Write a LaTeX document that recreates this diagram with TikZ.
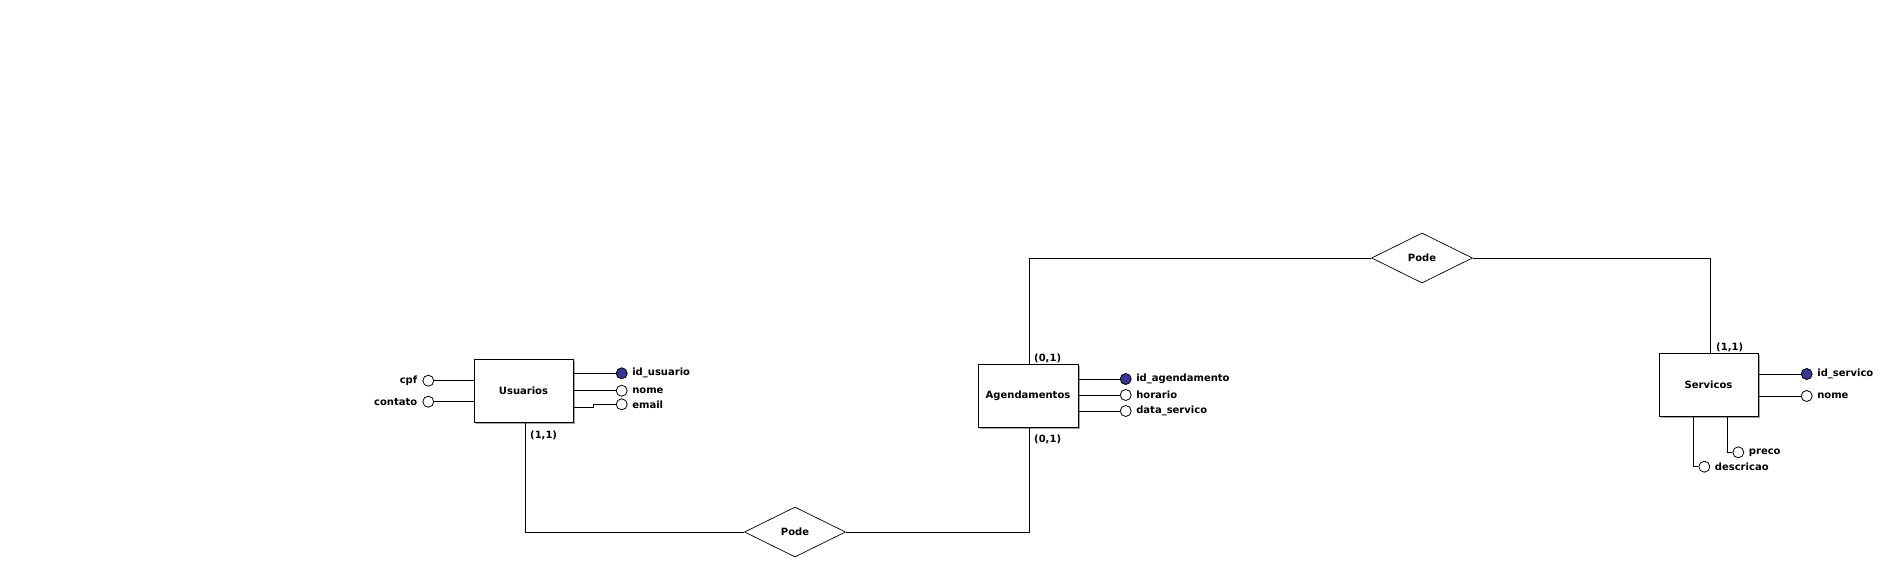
\documentclass[tikz,border=0pt]{standalone}
\usepackage{fontspec}
\setmainfont{DejaVu Sans}
\usetikzlibrary{shapes.geometric,shadows}
\definecolor{keyblue}{RGB}{55,55,145}
\tikzset{
  every node/.style={font=\bfseries\fontsize{10}{12}\selectfont},
  conn/.style={draw=black, line width=0.9pt},
  entity/.style={draw=black, line width=0.9pt, fill=white, minimum width=99pt, minimum height=63pt, inner sep=0pt,
     drop shadow={opacity=1, fill=gray!70, shadow xshift=2pt, shadow yshift=-2pt}},
  rel/.style={diamond, draw=black, line width=0.7pt, fill=white, minimum width=101pt, minimum height=50pt, inner sep=0pt},
  attr/.style={circle, draw=black, line width=0.8pt, fill=white, minimum size=11pt, inner sep=0pt},
  keyattr/.style={attr, fill=keyblue},
  attrtxt/.style={inner sep=0pt, anchor=west},
  attrtxtl/.style={inner sep=0pt, anchor=east},
  card/.style={inner sep=0pt, anchor=west}
}
\begin{document}
\begin{tikzpicture}[x=1pt,y=-1pt]
\useasboundingbox[fill=white] (0,0) rectangle (1886,563);

% entities
\node[entity] (usu) at (523.5,390.5) {Usuarios};
\node[entity, minimum width=100pt] (age) at (1028,395.5) {Agendamentos};
\node[entity] (ser) at (1708.5,384.5) {Servicos};

% relationships
\node[rel] (pode1) at (795,532) {Pode};
\node[rel] (pode2) at (1422,258) {Pode};

% connectors
\draw[conn] ([xshift=2pt]usu.south) |- (pode1.west);
\draw[conn] (pode1.east) -| ([xshift=1pt]age.south);
\draw[conn] ([xshift=1pt]age.north) |- (pode2.west);
\draw[conn] (pode2.east) -| ([xshift=2pt]ser.north);

% cardinalities
\node[card] (c1) at (530,435.7) {(1,1)};
\node[card] (c2) at (1034,439.3) {(0,1)};
\node[card] (c3) at (1034,358.3) {(0,1)};
\node[card] (c4) at (1716,347.3) {(1,1)};

% Usuarios attributes
\node[keyattr] (u1) at (621.7,373.3) {};
\node[attr] (u2) at (621.7,390.7) {};
\node[attr] (u3) at (621.7,404.3) {};
\node[attr] (u4) at (428.3,380.7) {};
\node[attr] (u5) at (428.3,401.7) {};
\draw[conn] (usu.east |- u1) -- (u1);
\draw[conn] (usu.east |- u2) -- (u2);
\draw[conn] ([yshift=-3.4pt]usu.east |- u3) -- ++(20,0) -- ++(0,-3.4) -- (u3);
\draw[conn] (usu.west |- u4) -- (u4);
\draw[conn] (usu.west |- u5) -- (u5);
\node[attrtxt] (tu1) at ([xshift=4.5pt]u1.east) {id\_usuario};
\node[attrtxt] (tu2) at ([xshift=4.5pt]u2.east) {nome};
\node[attrtxt] (tu3) at ([xshift=4.5pt]u3.east) {email};
\node[attrtxtl] (tu4) at ([xshift=-5pt]u4.west) {cpf};
\node[attrtxtl] (tu5) at ([xshift=-5pt]u5.west) {contato};

% Agendamentos attributes
\node[keyattr] (a1) at (1125.7,379) {};
\node[attr] (a2) at (1125.7,395) {};
\node[attr] (a3) at (1125.7,411) {};
\draw[conn] (age.east |- a1) -- (a1);
\draw[conn] (age.east |- a2) -- (a2);
\draw[conn] (age.east |- a3) -- (a3);
\node[attrtxt] (ta1) at ([xshift=4.5pt]a1.east) {id\_agendamento};
\node[attrtxt] (ta2) at ([xshift=4.5pt]a2.east) {horario};
\node[attrtxt] (ta3) at ([xshift=4.5pt]a3.east) {data\_servico};

% Servicos attributes
\node[keyattr] (s1) at (1806.7,374) {};
\node[attr] (s2) at (1806.7,396) {};
\node[attr] (s3) at (1738.3,452.3) {};
\node[attr] (s4) at (1704.3,466.7) {};
\draw[conn] (ser.east |- s1) -- (s1);
\draw[conn] (ser.east |- s2) -- (s2);
\draw[conn] ([xshift=18.8pt]ser.south) |- (s3);
\draw[conn] ([xshift=-15.2pt]ser.south) |- (s4);
\node[attrtxt] (ts1) at ([xshift=4.5pt]s1.east) {id\_servico};
\node[attrtxt] (ts2) at ([xshift=4.5pt]s2.east) {nome};
\node[attrtxt] (ts3) at ([xshift=4.5pt]s3.east) {preco};
\node[attrtxt] (ts4) at ([xshift=4.5pt]s4.east) {descricao};
\end{tikzpicture}
\end{document}
